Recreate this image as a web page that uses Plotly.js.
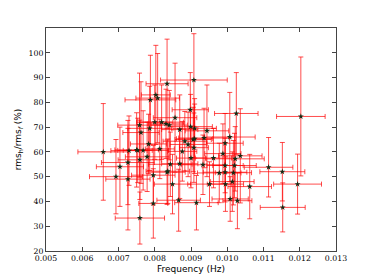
<!DOCTYPE html>
<html>
<head>
<meta charset="utf-8">
<script src="https://cdn.plot.ly/plotly-3.0.1.min.js"></script>
<style>html,body{margin:0;padding:0;background:#fff;}#chart{width:374px;height:280px;}</style>
</head>
<body>
<div id="chart"></div>
<script>
// Frequency (Hz)
const freq = [0.00658,0.00693,0.00704,0.00726,0.00726,0.00729,0.00750,0.00753,0.00759,0.00759,
0.00758,0.00762,0.00768,0.00779,0.00783,0.00786,0.00788,0.00796,0.00796,0.00800,
0.00803,0.00808,0.00814,0.00819,0.00831,0.00834,0.00834,0.00836,0.00840,0.00843,
0.00856,0.00849,0.00866,0.00869,0.00869,0.00876,0.00883,0.00892,0.00898,0.00899,
0.00900,0.00908,0.00906,0.00910,0.00908,0.00910,0.00915,0.00933,0.00936,0.00944,
0.00951,0.00962,0.00978,0.00988,0.00994,0.00994,0.00994,0.00995,0.01007,0.01008,
0.01014,0.01017,0.01020,0.01022,0.01025,0.01028,0.01036,0.01062,0.01114,0.01152,
0.01153,0.01194,0.01203];
const freqErr = [0.00070,0.00073,0.00065,0.00061,0.00073,0.00050,0.00060,0.00040,0.00068,0.00060,
0.00060,0.00050,0.00070,0.00060,0.00050,0.00060,0.00070,0.00060,0.00040,0.00050,
0.00040,0.00060,0.00040,0.00060,0.00050,0.00058,0.00050,0.00060,0.00050,0.00060,
0.00060,0.00050,0.00060,0.00050,0.00050,0.00040,0.00060,0.00050,0.00050,0.00060,
0.00040,0.00092,0.00050,0.00050,0.00040,0.00060,0.00060,0.00060,0.00070,0.00060,
0.00060,0.00050,0.00060,0.00050,0.00050,0.00050,0.00060,0.00050,0.00070,0.00050,
0.00060,0.00050,0.00060,0.00080,0.00060,0.00040,0.00060,0.00060,0.00067,0.00062,
0.00062,0.00066,0.00067];
// rms_h / rms_f (%)
const rms = [60.0,50.0,54.0,49.0,55.7,60.5,60.8,60.6,33.3,56.8,
70.8,67.8,60.6,58.0,63.2,69.5,81.0,50.6,39.2,72.0,
83.0,81.7,61.2,72.0,71.3,87.5,51.8,52.2,70.8,55.0,
73.8,47.0,40.5,69.0,55.2,60.2,64.3,63.0,77.0,70.2,
57.5,89.0,65.0,65.3,61.7,69.5,39.5,54.8,65.6,68.5,
47.0,57.5,51.5,59.3,63.5,54.5,51.8,47.0,66.0,41.0,
48.0,51.6,54.5,57.2,75.5,40.3,58.4,46.0,53.8,52.0,
37.6,47.0,74.3];
const rmsErr = [19.5,15.0,16.0,20.5,17.0,14.0,15.0,13.0,10.5,16.0,
21.0,20.5,16.0,14.0,12.0,17.0,18.0,12.0,14.0,15.0,
20.0,18.0,12.0,15.0,14.0,18.0,13.0,13.0,14.0,13.0,
22.0,12.0,12.5,14.0,14.0,12.0,12.0,13.0,15.0,13.0,
12.0,18.7,13.0,14.0,14.0,12.0,11.0,12.0,12.0,18.5,
9.0,12.0,12.0,12.0,12.0,11.0,12.0,11.0,18.0,9.0,
12.0,13.0,13.0,13.0,16.5,11.3,19.0,13.0,12.0,11.8,
9.9,12.1,24.0];
const xTicks = [0.005,0.006,0.007,0.008,0.009,0.010,0.011,0.012,0.013];
const yTicks = [20,30,40,50,60,70,80,90,100];

const trace = {
  x: freq, y: rms, type: 'scatter', mode: 'markers',
  marker: {symbol: 'star', size: 4.5, color: '#142b14'},
  error_x: {type: 'data', array: freqErr, visible: true, color: 'rgba(255,0,0,0.7)', thickness: 1, width: 2.5},
  error_y: {type: 'data', array: rmsErr, visible: true, color: 'rgba(255,0,0,0.7)', thickness: 1, width: 2.5},
  hoverinfo: 'skip'
};
const tickFont = {family: 'DejaVu Serif', size: 7.8, color: '#000'};
const layout = {
  width: 374, height: 280,
  margin: {l: 46, r: 38, t: 28, b: 29, pad: 0},
  paper_bgcolor: '#fff', plot_bgcolor: '#fff',
  showlegend: false,
  xaxis: {
    range: [0.005, 0.013], tickvals: xTicks, ticktext: xTicks.map(v => v.toFixed(3)),
    ticks: 'inside', ticklen: 4, tickcolor: '#444', tickwidth: 1,
    showline: true, linecolor: '#444', linewidth: 1, mirror: 'ticks',
    showgrid: false, zeroline: false, tickfont: tickFont,
    title: {text: 'Frequency (Hz)', font: {family: 'DejaVu Sans', size: 9, color: '#000'}, standoff: 3},
    automargin: false
  },
  yaxis: {
    range: [20, 110], tickvals: yTicks, ticktext: yTicks.map(String),
    ticks: 'inside', ticklen: 4, tickcolor: '#444', tickwidth: 1,
    showline: true, linecolor: '#444', linewidth: 1, mirror: 'ticks',
    showgrid: false, zeroline: false, tickfont: tickFont,
    title: {text: 'rms<sub>h</sub>/rms<sub><i>f</i></sub> (%)', font: {family: 'DejaVu Sans', size: 9, color: '#000'}, standoff: 5},
    automargin: false
  }
};
Plotly.newPlot('chart', [trace], layout, {staticPlot: true, displayModeBar: false});
</script>
</body>
</html>
